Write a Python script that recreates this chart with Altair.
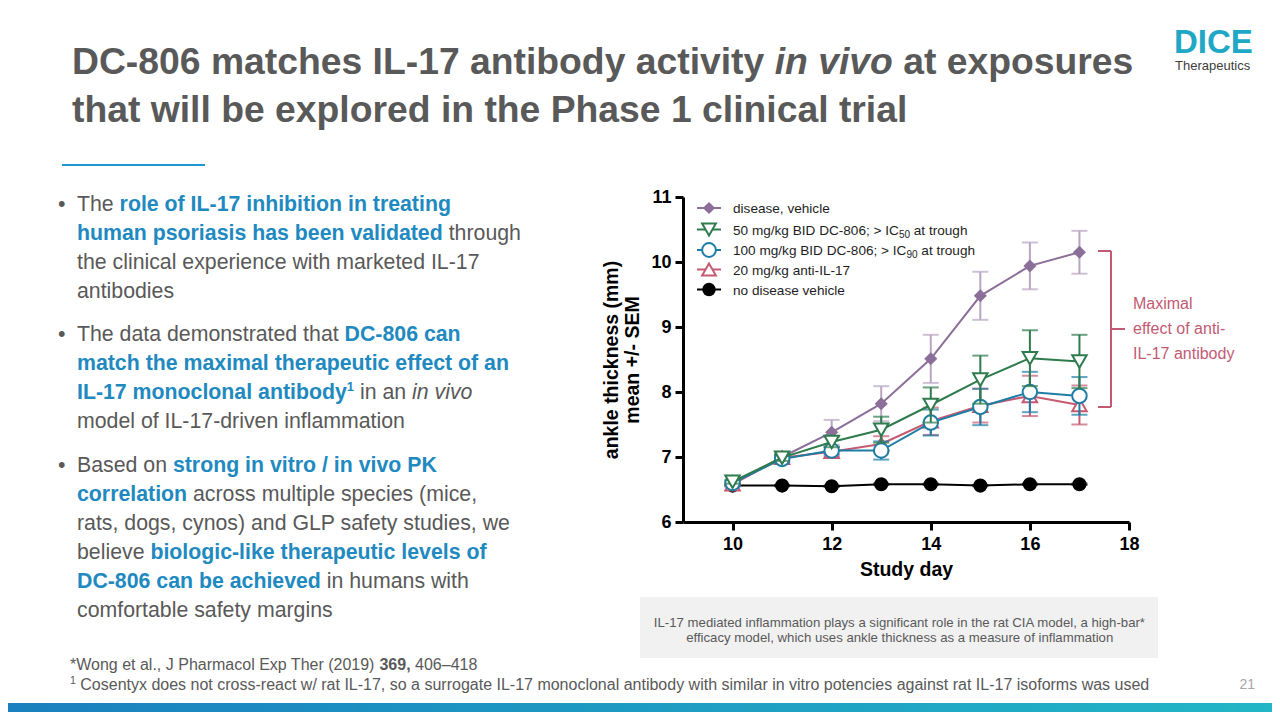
import altair as alt
import pandas as pd

# ---------------- chart data ----------------
days = [10, 11, 12, 13, 14, 15, 16, 17]

disease_mean = [6.59, 7.00, 7.38, 7.82, 8.51, 9.48, 9.94, 10.15]
disease_sem = [0.03, 0.04, 0.19, 0.27, 0.37, 0.37, 0.36, 0.33]

dc50_mean = [6.62, 6.99, 7.23, 7.42, 7.80, 8.19, 8.52, 8.47]
dc50_sem = [0.03, 0.05, 0.08, 0.20, 0.27, 0.37, 0.43, 0.41]

dc100_mean = [6.60, 6.97, 7.10, 7.10, 7.53, 7.77, 8.00, 7.94]
dc100_sem = [0.03, 0.05, 0.06, 0.14, 0.20, 0.28, 0.31, 0.29]

anti_mean = [6.58, 6.99, 7.08, 7.20, 7.55, 7.79, 7.94, 7.80]
anti_sem = [0.03, 0.04, 0.07, 0.12, 0.21, 0.26, 0.31, 0.30]

nodis_mean = [6.56, 6.56, 6.55, 6.58, 6.58, 6.56, 6.58, 6.58]
nodis_sem = [0.01, 0.01, 0.01, 0.01, 0.01, 0.01, 0.01, 0.01]

x_ticks = [10, 12, 14, 16, 18]
y_ticks = [6, 7, 8, 9, 10, 11]
x_domain = [9, 18]
y_domain = [6, 11]

x_title = "Study day"
y_title = ["ankle thickness (mm)", "mean +/- SEM"]

# ---------------- styling / layout ----------------
FONT = "Liberation Sans"
TITLE_GRAY = "#595959"
BODY_GRAY = "#595959"
BLUE = "#2089C0"
LEG = "#1E1E1E"
ROSE = "#C25A74"
TEAL = "#1FA8C6"

PURPLE = "#8C6F98"
PURPLE_ERR = "#B9A5C2"
GREEN = "#2E7B4D"
TBLUE = "#1E7DA5"
RED = "#C65A72"
BLACK = "#000000"

OX, OY = 683, 197          # plot origin in page pixels
PW, PH = 446, 325          # plot size
TOTAL_W, TOTAL_H = 1264, 704
pad = {"left": OX - 8, "top": OY - 8,
       "right": TOTAL_W - (OX - 8) - PW, "bottom": TOTAL_H - (OY - 8) - PH}


def px(x):
    return x - OX


def py(y):
    return y - OY


# Arial / Liberation Sans advance widths (per 1000 em)
REG = {}
for chars, w in [("'", 191), ("ijl", 222), (" !,./:;I[]\\ft", 278), ("()-`r", 333), ('"', 355),
                 ("*", 389), ("^", 469), ("Jckvxyzs", 500),
                 ("0123456789abdeghnopqu#$_L?\u2013", 556), ("+<=>~", 584), ("FTZ", 611),
                 ("ABEKPSVXY&", 667), ("CDHNRUw", 722), ("GOQ", 778), ("Mm", 833), ("%", 889),
                 ("W", 944), ("@", 1015), ("\u2022", 350)]:
    for ch in chars:
        REG[ch] = w
BOLD = {}
for chars, w in [("'", 238), ("ijl ,./I[]\\", 278), ("!():;-ft`", 333), ("r*", 389), ('"', 474),
                 ("z", 500), ("0123456789acekvsxyJ#$_?\u2013", 556), ("+<=>", 584),
                 ("bdghnopquFTLZ", 611), ("EPSVXY", 667), ("ABCDHKNRU&", 722), ("GOQw", 778),
                 ("M", 833), ("m%", 889), ("W", 944), ("\u2022", 350)]:
    for ch in chars:
        BOLD[ch] = w


def tw(s, size, bold=False):
    t = BOLD if bold else REG
    return sum(t.get(c, 556) for c in s) * size / 1000.0


# style: size, weight, italic, color, baseline shift
STY = {
    "T": (37.3, "bold", "normal", TITLE_GRAY, 0),
    "TI": (37.3, "bold", "italic", TITLE_GRAY, 0),
    "n": (21.3, "normal", "normal", BODY_GRAY, 0),
    "b": (21.3, "bold", "normal", BLUE, 0),
    "i": (21.3, "normal", "italic", BODY_GRAY, 0),
    "bs": (13.0, "bold", "normal", BLUE, -8),
    "L": (13.6, "normal", "normal", LEG, 0),
    "Ls": (10.0, "normal", "normal", LEG, 3),
    "F": (16.0, "normal", "normal", BODY_GRAY, 0),
    "FB": (16.0, "bold", "normal", BODY_GRAY, 0),
    "Fs": (10.5, "normal", "normal", BODY_GRAY, -6),
    "C": (13.2, "normal", "normal", BODY_GRAY, 0),
    "R": (16.0, "normal", "normal", ROSE, 0),
    "D": (33.0, "bold", "normal", TEAL, 0),
    "Th": (13.0, "normal", "normal", "#404040", 0),
    "P": (14.0, "normal", "normal", "#A6A6A6", 0),
}

rows = []


def add_line(x0, y, parts, align="left"):
    total = sum(tw(t, STY[k][0], STY[k][1] == "bold") for t, k in parts)
    x = x0
    if align == "center":
        x = x0 - total / 2
    elif align == "right":
        x = x0 - total
    for text, k in parts:
        size, weight, style, color, dy = STY[k]
        bold = weight == "bold"
        lead = len(text) - len(text.lstrip(" "))
        xt = x + tw(" " * lead, size, bold)
        if text.strip():
            rows.append(dict(x=px(xt), y=py(y + dy), text=text.strip(), size=size,
                             weight=weight, style=style, color=color))
        x += tw(text, size, bold)


# title
add_line(72, 74, [("DC-806 matches IL-17 antibody activity ", "T"), ("in vivo", "TI"),
                  (" at exposures", "T")])
add_line(72, 122, [("that will be explored in the Phase 1 clinical trial", "T")])

# logo
add_line(1174, 53, [("DICE", "D")])
add_line(1175, 70, [("Therapeutics", "Th")])

# bullets
BX = 77
for yb in [211, 341, 472]:
    add_line(58, yb, [("\u2022", "n")])
add_line(BX, 211, [("The ", "n"), ("role of IL-17 inhibition in treating", "b")])
add_line(BX, 240, [("human psoriasis has been validated", "b"), (" through", "n")])
add_line(BX, 269, [("the clinical experience with marketed IL-17", "n")])
add_line(BX, 298, [("antibodies", "n")])

add_line(BX, 341, [("The data demonstrated that ", "n"), ("DC-806 can", "b")])
add_line(BX, 370, [("match the maximal therapeutic effect of an", "b")])
add_line(BX, 399, [("IL-17 monoclonal antibody", "b"), ("1", "bs"), (" in an ", "n"), ("in vivo", "i")])
add_line(BX, 428, [("model of IL-17-driven inflammation", "n")])

add_line(BX, 472, [("Based on ", "n"), ("strong in vitro / in vivo PK", "b")])
add_line(BX, 501, [("correlation", "b"), (" across multiple species (mice,", "n")])
add_line(BX, 530, [("rats, dogs, cynos) and GLP safety studies, we", "n")])
add_line(BX, 559, [("believe ", "n"), ("biologic-like therapeutic levels of", "b")])
add_line(BX, 588, [("DC-806 can be achieved", "b"), (" in humans with", "n")])
add_line(BX, 617, [("comfortable safety margins", "n")])

# legend
legend_y = [208, 229.5, 250, 269.5, 289.5]
add_line(733, legend_y[0] + 5, [("disease, vehicle", "L")])
add_line(733, legend_y[1] + 5, [("50 mg/kg BID DC-806; > IC", "L"), ("50", "Ls"), (" at trough", "L")])
add_line(733, legend_y[2] + 5, [("100 mg/kg BID DC-806; > IC", "L"), ("90", "Ls"), (" at trough", "L")])
add_line(733, legend_y[3] + 5, [("20 mg/kg anti-IL-17", "L")])
add_line(733, legend_y[4] + 5, [("no disease vehicle", "L")])

# annotation
add_line(1133, 309, [("Maximal", "R")])
add_line(1133, 334, [("effect of anti-", "R")])
add_line(1133, 358.5, [("IL-17 antibody", "R")])

# caption box text
add_line(900, 627, [("IL-17 mediated inflammation plays a significant role in the rat CIA model, a high-bar*", "C")],
         align="center")
add_line(900, 642, [("efficacy model, which uses ankle thickness as a measure of inflammation", "C")],
         align="center")

# footnotes
add_line(70, 670, [("*Wong et al., J Pharmacol Exp Ther (2019) ", "F"), ("369,", "FB"), (" 406\u2013418", "F")])
add_line(70, 690, [("1", "Fs"), (" Cosentyx does not cross-react w/ rat IL-17, so a surrogate IL-17 monoclonal "
                              "antibody with similar in vitro potencies against rat IL-17 isoforms was used", "F")])
add_line(1255, 689, [("21", "P")], align="right")

texts = pd.DataFrame(rows)

# ---------------- chart ----------------
xscale = alt.Scale(domain=x_domain, nice=False, zero=False)
yscale = alt.Scale(domain=y_domain, nice=False, zero=False)
xaxis = alt.Axis(values=x_ticks, title=x_title, grid=False, format="d", labelFlush=False,
                 domainColor="black", domainWidth=3, tickColor="black", tickWidth=3, tickSize=8,
                 labelFont=FONT, labelFontSize=18, labelFontWeight="bold", labelColor="black",
                 labelPadding=5, titleFont=FONT, titleFontSize=19.5, titleFontWeight="bold",
                 titleColor="black", titlePadding=7)
yaxis = alt.Axis(values=y_ticks, title=y_title, grid=False, format="d", labelFlush=False,
                 domainColor="black", domainWidth=3, tickColor="black", tickWidth=3, tickSize=8,
                 labelFont=FONT, labelFontSize=18, labelFontWeight="bold", labelColor="black",
                 labelPadding=4, titleFont=FONT, titleFontSize=19.5, titleFontWeight="bold",
                 titleColor="black", titlePadding=8, titleLineHeight=21)

X = alt.X("day:Q", scale=xscale, axis=xaxis)

series = [
    # name, mean, sem, color, error colour, shape, open, size
    ("no disease vehicle", nodis_mean, nodis_sem, BLACK, BLACK, "circle", False, 200),
    ("disease, vehicle", disease_mean, disease_sem, PURPLE, PURPLE_ERR, "diamond", False, 170),
    ("20 mg/kg anti-IL-17", anti_mean, anti_sem, RED, RED, "triangle-up", True, 210),
    ("100 mg/kg BID DC-806", dc100_mean, dc100_sem, TBLUE, TBLUE, "circle", True, 210),
    ("50 mg/kg BID DC-806", dc50_mean, dc50_sem, GREEN, GREEN, "triangle-down", True, 210),
]

one = pd.DataFrame({"k": [0]})
layers = []

# caption background box & decorations (behind)
layers.append(alt.Chart(one).mark_rect(color="#F1F1F1").encode(
    x=alt.value(px(640)), x2=alt.value(px(1158)), y=alt.value(py(597)), y2=alt.value(py(658))))
layers.append(alt.Chart(one).mark_rect(
    fill=alt.LinearGradient(gradient="linear",
                            stops=[alt.GradientStop(color="#1A80BF", offset=0),
                                   alt.GradientStop(color="#22B6C6", offset=1)],
                            x1=0, x2=1, y1=0, y2=0)).encode(
    x=alt.value(px(8)), x2=alt.value(px(1272)), y=alt.value(py(703)), y2=alt.value(py(712))))
layers.append(alt.Chart(one).mark_rule(color="#1E96D2", strokeWidth=2).encode(
    x=alt.value(px(62)), x2=alt.value(px(205)), y=alt.value(py(165))))

# brace
for (xa, xb, ya, yb) in [(1098, 1111, 251, 251), (1098, 1111, 407, 407), (1111, 1111, 251, 407),
                         (1111, 1125, 329, 329)]:
    enc = dict(x=alt.value(px(xa)), y=alt.value(py(ya)))
    if xa != xb:
        enc["x2"] = alt.value(px(xb))
    if ya != yb:
        enc["y2"] = alt.value(py(yb))
    layers.append(alt.Chart(one).mark_rule(color=ROSE, strokeWidth=2).encode(**enc))

for name, mean, sem, col, ecol, shape, is_open, size in series:
    df = pd.DataFrame({"day": days, "mean": mean,
                       "lo": [m - s for m, s in zip(mean, sem)],
                       "hi": [m + s for m, s in zip(mean, sem)]})
    base = alt.Chart(df)
    layers.append(base.mark_rule(color=ecol, strokeWidth=2).encode(
        x=X, y=alt.Y("lo:Q", scale=yscale, axis=yaxis), y2="hi:Q"))
    for f in ["lo", "hi"]:
        layers.append(base.mark_tick(orient="horizontal", size=16, thickness=2, color=ecol).encode(
            x=X, y=alt.Y(f + ":Q", scale=yscale, axis=yaxis)))
    layers.append(base.mark_line(color=col, strokeWidth=2).encode(
        x=X, y=alt.Y("mean:Q", scale=yscale, axis=yaxis)))
    if is_open:
        pm = base.mark_point(shape=shape, filled=True, fill="white", stroke=col, strokeWidth=2,
                             size=size, opacity=1)
    else:
        pm = base.mark_point(shape=shape, filled=True, color=col, size=size, opacity=1)
    layers.append(pm.encode(x=X, y=alt.Y("mean:Q", scale=yscale, axis=yaxis)))

# legend symbols
legend_spec = [(PURPLE, "diamond", False, 150), (GREEN, "triangle-down", True, 190),
               (TBLUE, "circle", True, 190), (RED, "triangle-up", True, 190), (BLACK, "circle", False, 180)]
for yc, (col, shape, is_open, size) in zip(legend_y, legend_spec):
    layers.append(alt.Chart(one).mark_rule(color=col, strokeWidth=2).encode(
        x=alt.value(px(697)), x2=alt.value(px(721)), y=alt.value(py(yc))))
    if is_open:
        pm = alt.Chart(one).mark_point(shape=shape, filled=True, fill="white", stroke=col,
                                       strokeWidth=2, size=size, opacity=1)
    else:
        pm = alt.Chart(one).mark_point(shape=shape, filled=True, color=col, size=size, opacity=1)
    layers.append(pm.encode(x=alt.value(px(709)), y=alt.value(py(yc))))

# text layers
for weight in ["normal", "bold"]:
    for style in ["normal", "italic"]:
        sub = texts[(texts.weight == weight) & (texts["style"] == style)]
        if len(sub) == 0:
            continue
        layers.append(alt.Chart(sub).mark_text(font=FONT, fontWeight=weight, fontStyle=style,
                                               align="left", baseline="alphabetic").encode(
            x=alt.X("x:Q", scale=None),
            y=alt.Y("y:Q", scale=None),
            text="text:N",
            color=alt.Color("color:N", scale=None),
            size=alt.Size("size:Q", scale=None)))

chart = alt.layer(*layers).properties(
    width=PW, height=PH, padding=pad,
    autosize=alt.AutoSizeParams(type="none"),
    background="white",
).configure_view(stroke=None)

chart.save("out.html", embed_options={"renderer": "svg", "actions": False})
